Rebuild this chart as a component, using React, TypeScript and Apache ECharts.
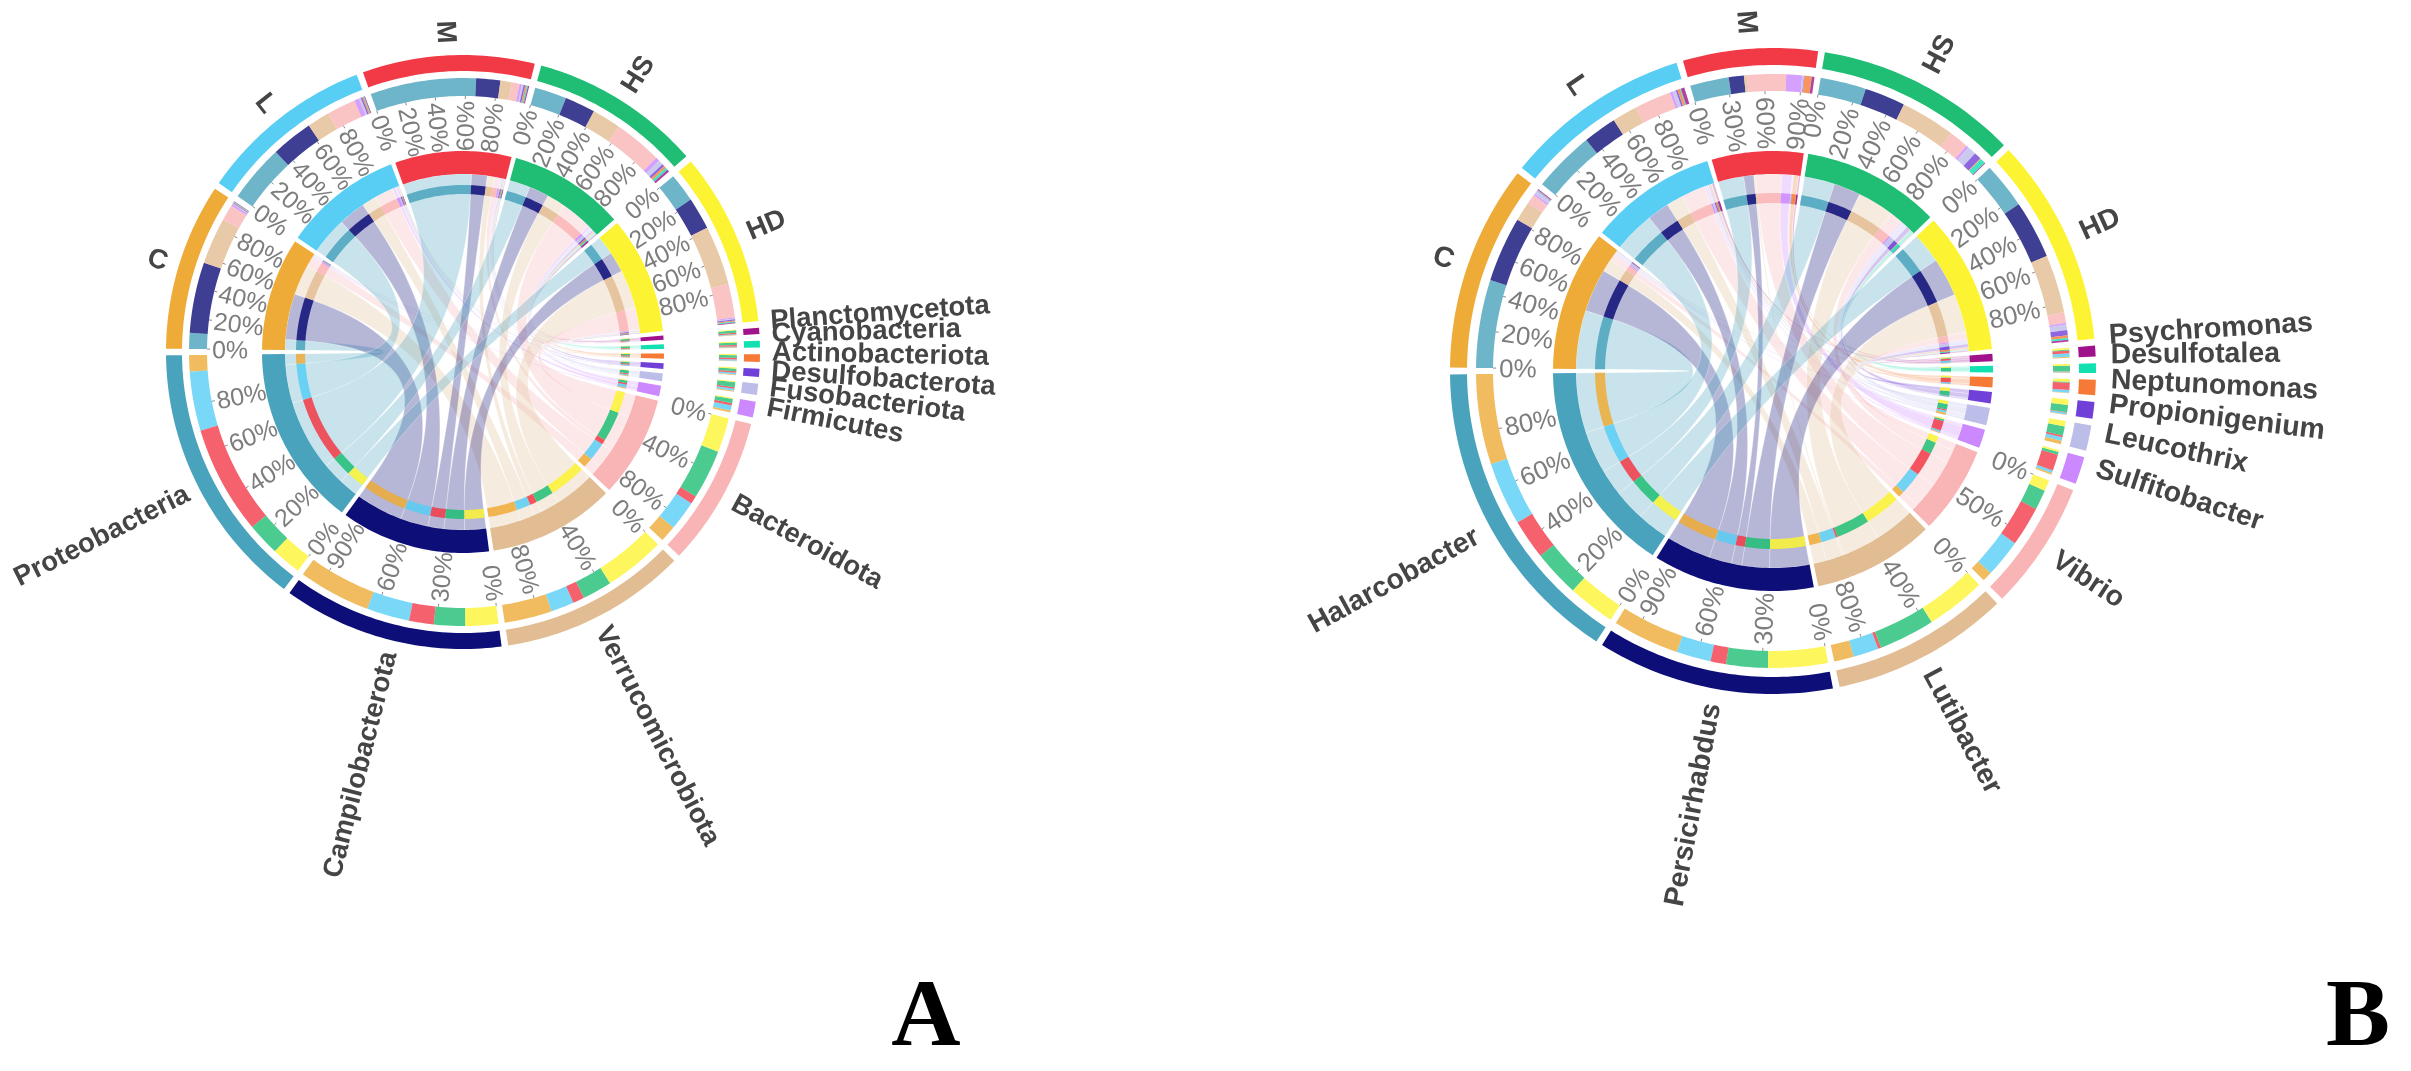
import React, { useEffect, useRef } from "react";
import * as echarts from "echarts";

const SAMPLES = ["C", "L", "M", "HS", "HD"];
const SAMPLE_COLORS = ["#EEAB37", "#58CEF5", "#F23A47", "#1FBE74", "#FCF433"];
const TAXON_COLORS = ["#4AA3BD", "#0E0E78", "#E2BD94", "#F9B4B5", "#CC88FF", "#BDBDEA", "#7040D8", "#F67A36", "#11E0B0", "#A0128C"];

const TAXA_A = ["Proteobacteria", "Campilobacterota", "Verrucomicrobiota", "Bacteroidota", "Firmicutes", "Fusobacteriota", "Desulfobacterota", "Actinobacteriota", "Cyanobacteria", "Planctomycetota"];
const C_A = [10, 44, 29, 10, 1.2, 0.6, 0.4, 0.3, 0.4, 0.3];
const L_A = [36, 26, 14, 18, 3, 1.2, 1, 0.8, 0.5, 0.5];
const M_A = [66, 15, 7, 5, 1.5, 1, 1, 1, 0.8, 0.7];
const HS_A = [20, 19, 18, 30, 2.5, 3, 1.5, 1.5, 1.5, 1.5];
const HD_A = [18, 20, 37, 21, 0.7, 0.5, 0.7, 0.7, 0.6, 0.5];
const SAMPLE_STEPS_A = [20, 20, 20, 20, 20];
const TAXON_STEPS_A = [20, 30, 40, 40, 0, 0, 0, 0, 0, 0];
const LABEL_SHIFT_A = [0, 0, 0, 0, -1.1, -0.8, -0.8, -1.4, -2.1, -2];

const TAXA_B = ["Halarcobacter", "Persicirhabdus", "Lutibacter", "Vibrio", "Sulfitobacter", "Leucothrix", "Propionigenium", "Neptunomonas", "Desulfotalea", "Psychromonas"];
const C_B = [50, 37, 11, 5.5, 1, 2, 0.2, 0.2, 0.3, 0.5];
const L_B = [35, 19, 14, 21, 1.5, 2, 1, 1.5, 0.5, 2];
const M_B = [22, 8.6, 1.7, 22, 9, 1, 0.3, 4, 0.1, 1.5];
const HS_B = [26, 23, 31, 11, 1.5, 5, 4, 0.5, 3, 0.5];
const HD_B = [26, 33, 33, 6, 1, 3, 3, 1.5, 1, 1];
const SAMPLE_STEPS_B = [20, 20, 30, 20, 20];
const TAXON_STEPS_B = [20, 30, 40, 50, 0, 0, 0, 0, 0, 0];
const LABEL_SHIFT_B = [0, 0, 0, 0, -1.5, -1.6, -1.6, -1.7, -2.5, -2.8];

const LAYOUT_A = { center: [463, 352], gap: 1.3, taxonStretch: 1.025, outer: [281, 297], stack: [256, 274], inner: [178, 201], innerStack: [158, 167], tick: 251, label: 309, tickFont: 25, labelFont: 27.5 };
const LAYOUT_B = { center: [1773, 371], gap: 1.2, taxonStretch: 1.025, outer: [306, 323], stack: [280, 297], inner: [197, 220], innerStack: [168, 178], tick: 274, label: 338, tickFont: 26, labelFont: 28.5 };

function sumOf(a: number[]) {
  return a.reduce((s, v) => s + v, 0);
}

function panelSeries(rows: number[][], taxa: string[], sampleSteps: number[], taxonSteps: number[], labelShift: number[], lay: any, polarIndex: number) {
  const nT = taxa.length;
  const st = lay.taxonStretch;
  const colSum = taxa.map((_, j) => sumOf(rows.map((r) => r[j])) * st);
  const rowSum = rows.map(sumOf);
  const total = sumOf(rowSum) + sumOf(colSum);
  const nSectors = rows.length + nT;
  const gapU = (lay.gap / 360) * total / (1 - (lay.gap * nSectors) / 360);
  const maxU = total + gapU * nSectors;
  const deg = 360 / maxU;

  // Sector starts going clockwise: samples, then taxa in reverse order
  const sampleStart: number[] = [];
  const taxonStart: number[] = [];
  let u = gapU / 2;
  rows.forEach((_, i) => { sampleStart[i] = u; u += rowSum[i] + gapU; });
  for (let j = nT - 1; j >= 0; j--) { taxonStart[j] = u; u += colSum[j] + gapU; }

  const bands: number[][] = [];
  const chords: number[][] = [];
  const marks: number[][] = [];
  const tickTexts: string[] = [];
  const names: string[] = [];
  const nameData: number[][] = [];

  const bandColors: string[] = [];
  const addBand = (r: number[], a0: number, a1: number, color: string, alpha: number) => {
    bands.push([r[0], a0, r[1], a1, alpha]);
    bandColors.push(color);
  };

  const chordColors: string[] = [];
  const segA: number[][][] = rows.map(() => []);
  const segB: number[][][] = rows.map(() => []);

  rows.forEach((row, i) => {
    let c = sampleStart[i];
    row.forEach((v, j) => { segA[i][j] = [c, c + v]; c += v; });
  });
  taxa.forEach((_, j) => {
    let c = taxonStart[j];
    for (let i = rows.length - 1; i >= 0; i--) {
      const v = rows[i][j] * st;
      segB[i][j] = [c, c + v];
      c += v;
    }
  });

  rows.forEach((row, i) => {
    row.forEach((_, j) => {
      chords.push([lay.inner[0], segA[i][j][0], segA[i][j][1], segB[i][j][0], segB[i][j][1], lay.innerStack[0]]);
      chordColors.push(TAXON_COLORS[j]);
    });
  });

  rows.forEach((row, i) => {
    const a0 = sampleStart[i];
    const a1 = a0 + rowSum[i];
    addBand(lay.outer, a0, a1, SAMPLE_COLORS[i], 1);
    addBand(lay.inner, a0, a1, SAMPLE_COLORS[i], 1);
    row.forEach((_, j) => {
      addBand(lay.stack, segA[i][j][0], segA[i][j][1], TAXON_COLORS[j], 0.8);
      addBand(lay.innerStack, segA[i][j][0], segA[i][j][1], TAXON_COLORS[j], 0.85);
    });
  });
  taxa.forEach((_, j) => {
    const a0 = taxonStart[j];
    const a1 = a0 + colSum[j];
    addBand(lay.outer, a0, a1, TAXON_COLORS[j], 1);
    addBand(lay.inner, a0, a1, TAXON_COLORS[j], 1);
    rows.forEach((_, i) => {
      addBand(lay.stack, segB[i][j][0], segB[i][j][1], SAMPLE_COLORS[i], 0.8);
      addBand(lay.innerStack, segB[i][j][0], segB[i][j][1], SAMPLE_COLORS[i], 0.85);
    });
  });

  const addTicks = (start: number, size: number, step: number) => {
    if (!step) return;
    for (let p = 0; p < 100; p += step) {
      marks.push([lay.tick, start + (size * p) / 100]);
      tickTexts.push(p + "%");
    }
  };
  rows.forEach((_, i) => addTicks(sampleStart[i], rowSum[i], sampleSteps[i]));
  taxa.forEach((_, j) => addTicks(taxonStart[j], colSum[j], taxonSteps[j]));

  const deltaU = 1 / deg;
  SAMPLES.forEach((n, i) => { names.push(n); nameData.push([lay.label, sampleStart[i] + rowSum[i] / 2, 0]); });
  taxa.forEach((n, j) => { names.push(n); nameData.push([lay.label, taxonStart[j] + colSum[j] / 2, labelShift[j] * deltaU]); });

  const thetaOf = (a: number) => (270 + a * deg) % 360;

  const arc = (api: any, r: number, a0: number, a1: number) => {
    const n = Math.max(2, Math.ceil(Math.abs(a1 - a0) * deg));
    const pts: number[][] = [];
    for (let k = 0; k <= n; k++) pts.push(api.coord([r, a0 + ((a1 - a0) * k) / n]));
    return pts;
  };

  const curve = (api: any, r: number, from: number, to: number) => {
    const p0 = api.coord([r, from]);
    const p2 = api.coord([r, to]);
    const c = api.coord([0, 0]);
    const pts: number[][] = [];
    for (let k = 0; k <= 30; k++) {
      const t = k / 30;
      const s = 1 - t;
      pts.push([
        s * s * p0[0] + 2 * s * t * c[0] + t * t * p2[0],
        s * s * p0[1] + 2 * s * t * c[1] + t * t * p2[1],
      ]);
    }
    return pts;
  };

  const base = { type: "custom", coordinateSystem: "polar", polarIndex, silent: true, clip: false, animation: false };

  const chordSeries = {
    ...base,
    data: chords,
    renderItem: (params: any, api: any) => {
      const r0 = api.value(0);
      const a0 = api.value(1);
      const a1 = api.value(2);
      const b0 = api.value(3);
      const b1 = api.value(4);
      const rs = api.value(5);
      const points = [
        ...arc(api, r0, a0, a1),
        ...curve(api, rs, a1, b0),
        ...arc(api, r0, b0, b1),
        ...curve(api, rs, b1, a0),
      ];
      return {
        type: "polygon",
        shape: { points },
        style: { fill: chordColors[params.dataIndex], opacity: 0.3, stroke: "#ffffff", lineWidth: 1 },
      };
    },
  };

  const bandSeries = {
    ...base,
    data: bands,
    renderItem: (params: any, api: any) => {
      const rIn = api.value(0);
      const a0 = api.value(1);
      const rOut = api.value(2);
      const a1 = api.value(3);
      const points = [...arc(api, rOut, a0, a1), ...arc(api, rIn, a1, a0)];
      return { type: "polygon", shape: { points }, style: { fill: bandColors[params.dataIndex], opacity: api.value(4) } };
    },
  };

  const tickSeries = {
    ...base,
    data: marks,
    renderItem: (params: any, api: any) => {
      const r = api.value(0);
      const a = api.value(1);
      const th = thetaOf(a);
      const right = th > 0 && th < 180;
      const rot = (((right ? 90 : 270) - th) * Math.PI) / 180;
      const p = api.coord([r, a]);
      const t0 = api.coord([lay.stack[0], a]);
      const t1 = api.coord([lay.stack[0] - 3, a]);
      return {
        type: "group",
        children: [
          { type: "line", shape: { x1: t0[0], y1: t0[1], x2: t1[0], y2: t1[1] }, style: { stroke: "#8a8a8a", lineWidth: 1 } },
          {
            type: "text",
            x: p[0],
            y: p[1],
            rotation: rot,
            style: {
              text: tickTexts[params.dataIndex],
              fill: "#7d7d7d",
              font: `${lay.tickFont}px "Liberation Sans", Arial, sans-serif`,
              align: right ? "right" : "left",
              verticalAlign: "middle",
            },
          },
        ],
      };
    },
  };

  const nameSeries = {
    ...base,
    data: nameData,
    renderItem: (params: any, api: any) => {
      const r = api.value(0);
      const a = api.value(1);
      const th = thetaOf(a);
      const right = th > 0 && th < 180;
      const rot = (((right ? 90 : 270) - th) * Math.PI) / 180;
      const p = api.coord([r, a + api.value(2)]);
      return {
        type: "text",
        x: p[0],
        y: p[1],
        rotation: rot,
        style: {
          text: names[params.dataIndex],
          fill: "#454545",
          font: `bold ${lay.labelFont}px "Liberation Sans", Arial, sans-serif`,
          align: right ? "left" : "right",
          verticalAlign: "middle",
        },
      };
    },
  };

  return {
    polar: { center: lay.center, radius: [0, lay.outer[1]] },
    angleAxis: { polarIndex, type: "value", min: 0, max: maxU, startAngle: 180, clockwise: true, show: false },
    radiusAxis: { polarIndex, type: "value", min: 0, max: lay.outer[1], show: false },
    series: [chordSeries, bandSeries, tickSeries, nameSeries],
  };
}

export default function App() {
  const ref = useRef<HTMLDivElement | null>(null);
  useEffect(() => {
    document.body.style.margin = "0";
    const chart = echarts.init(ref.current as HTMLDivElement, undefined, { renderer: "svg" });
    const a = panelSeries([C_A, L_A, M_A, HS_A, HD_A], TAXA_A, SAMPLE_STEPS_A, TAXON_STEPS_A, LABEL_SHIFT_A, LAYOUT_A, 0);
    const b = panelSeries([C_B, L_B, M_B, HS_B, HD_B], TAXA_B, SAMPLE_STEPS_B, TAXON_STEPS_B, LABEL_SHIFT_B, LAYOUT_B, 1);
    chart.setOption({
      animation: false,
      backgroundColor: "#ffffff",
      polar: [a.polar, b.polar],
      angleAxis: [a.angleAxis, b.angleAxis],
      radiusAxis: [a.radiusAxis, b.radiusAxis],
      series: [...a.series, ...b.series],
      graphic: [
        { type: "text", x: 926, y: 1060, style: { text: "A", fill: "#000", font: 'bold 96px "Liberation Serif", serif', align: "center", verticalAlign: "bottom" } },
        { type: "text", x: 2358, y: 1060, style: { text: "B", fill: "#000", font: 'bold 96px "Liberation Serif", serif', align: "center", verticalAlign: "bottom" } },
      ],
    });
    return () => chart.dispose();
  }, []);
  return <div ref={ref} style={{ position: "absolute", left: 0, top: 0, width: 2411, height: 1071, filter: "blur(0.7px)" }} />;
}
